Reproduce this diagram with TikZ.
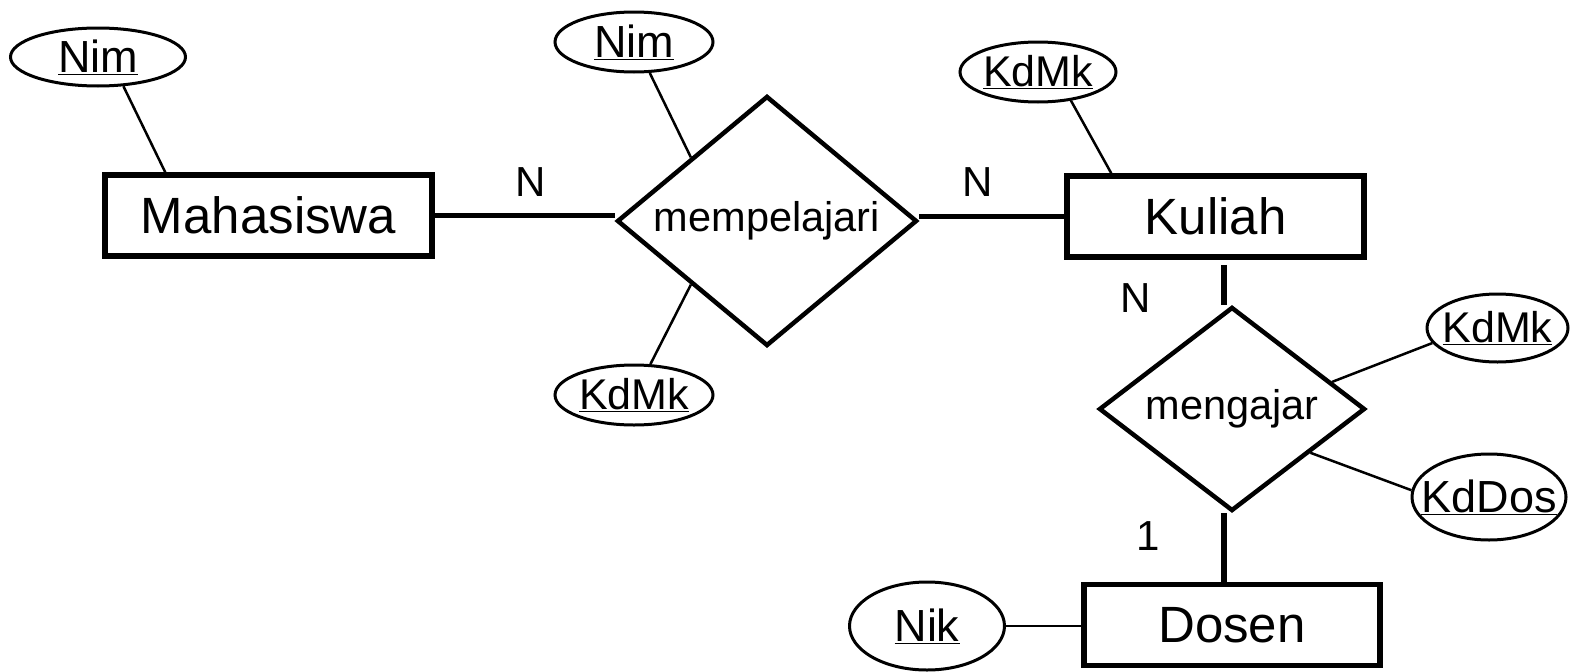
\documentclass[tikz,border=0pt]{standalone}
\usepackage{fontspec}
\setmainfont{Liberation Sans}
\usetikzlibrary{shapes.geometric,calc}
\begin{document}
\begin{tikzpicture}[x=1pt,y=-1pt,
  entity/.style={draw=black,line width=5.5pt,rectangle,inner sep=0pt,font=\fontsize{51}{58}\selectfont},
  relation/.style={draw=black,line width=4.5pt,diamond,shape aspect=1.2,inner sep=0pt,font=\fontsize{41.5}{48}\selectfont},
  attr/.style={draw=black,line width=3pt,ellipse,inner sep=0pt},
  attrtext/.style={inner sep=0pt,font=\fontsize{45}{52}\selectfont},
  attrsmall/.style={inner sep=0pt,font=\fontsize{43}{50}\selectfont},
  card/.style={inner sep=0pt,font=\fontsize{42}{50}\selectfont},
  thinlink/.style={line width=2.5pt},
  thicklink/.style={line width=5.5pt}]
\useasboundingbox (0,0) rectangle (1572,672);

% entities
\node[entity,minimum width=327pt,minimum height=81pt] (mahasiswa) at (268.5,215.5) {Mahasiswa};
\node[entity,minimum width=297pt,minimum height=81pt] (kuliah) at (1215.5,216.5) {Kuliah};
\node[entity,minimum width=296pt,minimum height=81pt] (dosen) at (1232,625) {Dosen};

% relations
\node[relation,minimum width=300pt,minimum height=250pt] (mempelajari) at (767,221) {mempelajari};
\node[relation,minimum width=266pt,minimum height=204pt] (mengajar) at (1232,409) {mengajar};

% attributes
\node[attr,minimum width=175pt,minimum height=58pt,label={[attrtext]center:\underline{Nim}}] (nimA) at (98,57) {};
\node[attr,minimum width=158pt,minimum height=60pt,label={[attrtext]center:\underline{Nim}}] (nimB) at (634,42) {};
\node[attr,minimum width=158pt,minimum height=60pt,label={[attrsmall]center:\underline{KdMk}}] (kdmkA) at (634,395) {};
\node[attr,minimum width=156pt,minimum height=60pt,label={[attrsmall]center:\underline{KdMk}}] (kdmkB) at (1038,72) {};
\node[attr,minimum width=141pt,minimum height=68pt,label={[attrsmall]center:\underline{KdMk}}] (kdmkC) at (1497.5,328) {};
\node[attr,minimum width=154pt,minimum height=86pt,label={[attrtext]center:\underline{KdDos}}] (kddos) at (1489,497) {};
\node[attr,minimum width=155pt,minimum height=88pt,label={[attrtext]center:\underline{Nik}}] (nik) at (927,626) {};

% cardinalities
\node[card] (cardA) at (531,182) {N};
\node[card] (cardB) at (978,182) {N};
\node[card] (cardC) at (1136,298) {N};
\node[card] (cardD) at (1148,536) {1};

% thick connectors
\draw[thicklink] (mahasiswa.east) -- (mahasiswa.east -| mempelajari.west);
\draw[thicklink] (kuliah.west -| mempelajari.east) -- (kuliah.west);
\draw[thicklink] ($(kuliah.south -| mengajar.north)+(-8,5)$) -- ($(mengajar.north)+(-8,0)$);
\draw[thicklink] ($(mengajar.south)+(-8,0)$) -- ($(dosen.north -| mengajar.south)+(-8,0)$);

% thin connectors
\draw[thinlink] (nimA.-49) -- ($(mahasiswa.north west)+(63,0)$);
\draw[thinlink] (nimB.-63) -- (mempelajari.north west);
\draw[thinlink] (kdmkA.62) -- (mempelajari.south west);
\draw[thinlink] (kdmkB.-41) -- ($(kuliah.north west)+(47,0)$);
\draw[thinlink] (kdmkC.193) -- ($(mengajar.north)!0.74!(mengajar.east)$);
\draw[thinlink] (kddos.175) -- ($(mengajar.east)!0.42!(mengajar.south)$);
\draw[thinlink] (nik.east) -- (nik.east -| dosen.west);
\end{tikzpicture}
\end{document}
